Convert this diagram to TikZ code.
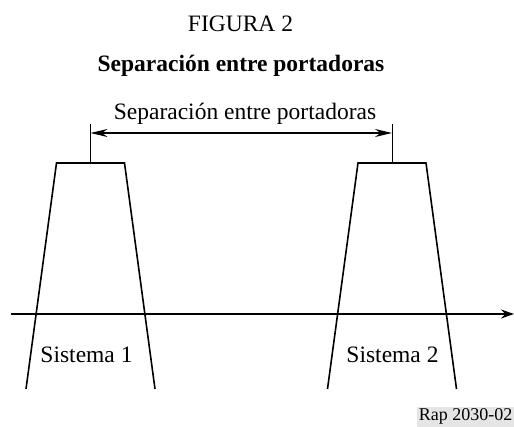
\documentclass[tikz,border=0pt]{standalone}
\usepackage{fontspec}
\setmainfont{Liberation Serif}
\usetikzlibrary{positioning, arrows.meta, calc}

\tikzset{
    carrier/.style={line width=1.6pt, line join=miter},
    tickline/.style={line width=0.8pt},
    dimline/.style={line width=1.8pt,
        {Stealth[length=17pt, width=8pt]}-{Stealth[length=17pt, width=8pt]}},
    axisline/.style={line width=2.6pt, -{Stealth[length=13pt, width=9pt]}},
    lbl/.style={font=\fontsize{23.5}{28}\selectfont, inner sep=0pt, anchor=base},
}

\begin{document}
\begin{tikzpicture}[x=1pt, y=-1pt]
    \useasboundingbox (0,0) rectangle (514,427);

    % titles
    \node[lbl] (fignum) at (240.5,32) {FIGURA 2};
    \node[lbl, font=\fontsize{23.5}{28}\selectfont\bfseries] (figtitle) at (241,72)
        {Separación entre portadoras};

    % the two carriers
    \foreach \n/\xc/\xl in {1/90.5/86.5, 2/392/392.5}
    {
        \coordinate (top\n) at (\xc,163);
        \coordinate (tick\n) at (\xc,124);
        \coordinate (arr\n) at (\xc,133);
        \draw[carrier]
            (\xc-64.5,389) -- (\xc-34,163) -- (\xc+34,163) -- (\xc+64.5,389);
        \draw[tickline] (top\n) -- (tick\n);
        \node[lbl] (sys\n) at (\xl,363) {Sistema \n};
    }

    % carrier spacing
    \draw[dimline] (arr1) -- (arr2);
    \node[lbl] (spacing) at (245,120) {Separación entre portadoras};

    % frequency axis
    \coordinate (axs) at (11,314);
    \coordinate (axe) at (514,314);
    \draw[axisline] (axs) -- (axe);

    % reference tag
    \node[fill=black!10, font=\fontsize{18}{20}\selectfont, inner xsep=1.5pt,
        inner ysep=2pt, anchor=south east] (rapid) at (514,427) {Rap 2030-02};
\end{tikzpicture}
\end{document}
